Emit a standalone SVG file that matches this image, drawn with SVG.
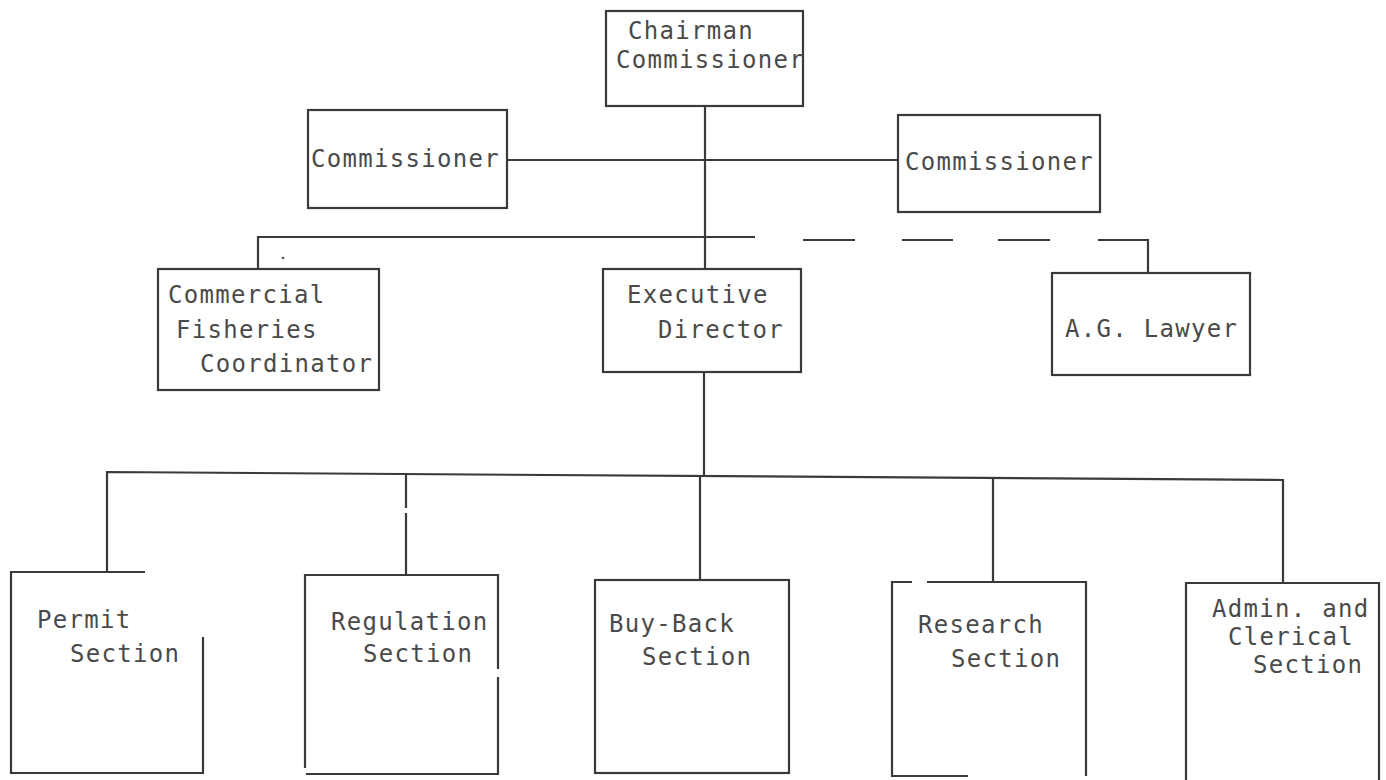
<svg xmlns="http://www.w3.org/2000/svg" width="1386" height="780" viewBox="0 0 1386 780">
<style>
.b{fill:none;stroke:#3a3a3a;stroke-width:2.2}
.l{fill:none;stroke:#3a3a3a;stroke-width:2.2}
text{font-family:"DejaVu Sans Mono","Liberation Mono",monospace;font-size:24px;letter-spacing:1.3px;fill:#4a4a4a}
</style>
<rect width="1386" height="780" fill="#ffffff"/>
<g id="connectors">
<path class="l" d="M705,106 V269"/>
<path class="l" d="M507,160 H898"/>
<path class="l" d="M258,269 V237 H755"/>
<path class="l" d="M803,240 H855 M902,240 H953 M998,240 H1050 M1098,240 H1148 V273"/>
<path class="l" d="M704,372 V475"/>
<path class="l" d="M107,571 V472 L1283,480 V583"/>
<path class="l" d="M406,473 V508 M406,513 V575"/>
<path class="l" d="M700,475 V580"/>
<path class="l" d="M993,478 V582"/>
</g>
<g id="chairman">
<rect class="b" x="606" y="11" width="197" height="95"/>
<text x="628" y="39">Chairman</text>
<text x="616" y="68">Commissioner</text>
</g>
<g id="commissioner-left">
<rect class="b" x="308" y="110" width="199" height="98"/>
<text x="311" y="167">Commissioner</text>
</g>
<g id="commissioner-right">
<rect class="b" x="898" y="115" width="202" height="97"/>
<text x="905" y="170">Commissioner</text>
</g>
<g id="commercial-fisheries">
<rect class="b" x="158" y="269" width="221" height="121"/>
<circle cx="283" cy="258" r="1.3" fill="#555"/>
<text x="168" y="303">Commercial</text>
<text x="176" y="338">Fisheries</text>
<text x="200" y="372">Coordinator</text>
</g>
<g id="executive-director">
<rect class="b" x="603" y="269" width="198" height="103"/>
<text x="627" y="303">Executive</text>
<text x="658" y="338">Director</text>
</g>
<g id="ag-lawyer">
<rect class="b" x="1052" y="273" width="198" height="102"/>
<text x="1065" y="337">A.G. Lawyer</text>
</g>
<g id="permit">
<path class="b" d="M145,572 H11 V773 H203 V637"/>
<text x="37" y="628">Permit</text>
<text x="70" y="662">Section</text>
</g>
<g id="regulation">
<path class="b" d="M305,768 V575 H498 V669 M498,677 V774 H306"/>
<text x="331" y="630">Regulation</text>
<text x="363" y="662">Section</text>
</g>
<g id="buy-back">
<rect class="b" x="595" y="580" width="194" height="193"/>
<text x="609" y="632">Buy-Back</text>
<text x="642" y="665">Section</text>
</g>
<g id="research">
<path class="b" d="M912,582 H892 V776 H968 M927,582 H1086 V776"/>
<text x="918" y="633">Research</text>
<text x="951" y="667">Section</text>
</g>
<g id="admin">
<path class="b" d="M1186,780 V583 H1379 V780"/>
<text x="1212" y="617">Admin. and</text>
<text x="1228" y="645">Clerical</text>
<text x="1253" y="673">Section</text>
</g>
</svg>
